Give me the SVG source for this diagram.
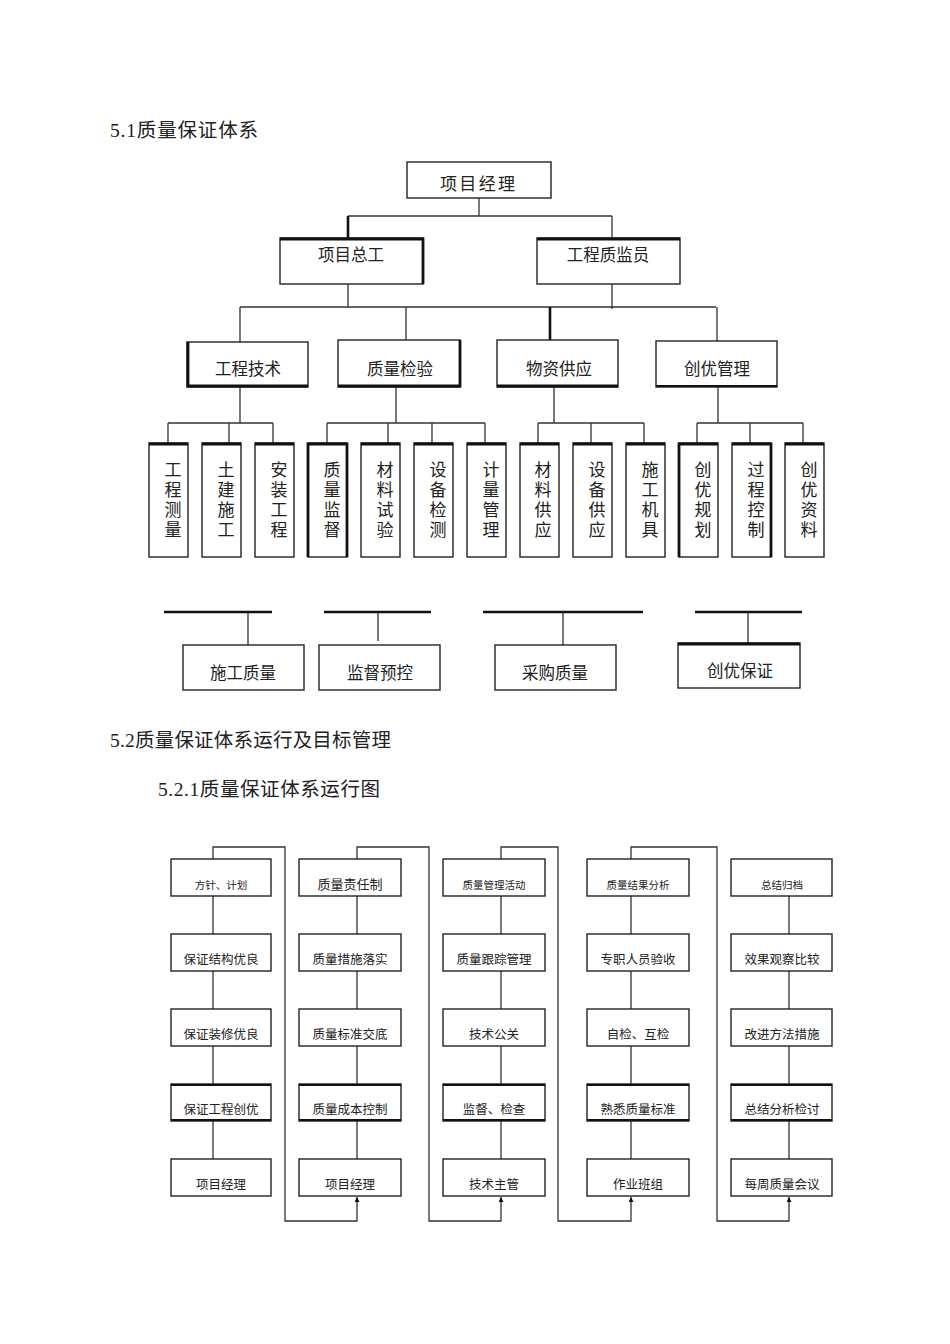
<svg xmlns="http://www.w3.org/2000/svg" width="950" height="1344" viewBox="0 0 950 1344">
<style>
.b{fill:#fff;stroke:#222;stroke-width:1.4}
.k{fill:none;stroke:#111;stroke-width:2.8}
.c{fill:none;stroke:#333;stroke-width:1.3}
.ck{fill:none;stroke:#111;stroke-width:2.6}
.t{font-family:"Noto Sans CJK SC",sans-serif;fill:#222;text-anchor:middle;dominant-baseline:central}
.t1{font-size:16.5px}
.tv{font-family:"Noto Sans CJK SC",sans-serif;fill:#222;font-size:17px;text-anchor:middle;dominant-baseline:central;writing-mode:vertical-rl;letter-spacing:3px}
.t2{font-size:12.5px}
.ts{font-size:10.5px}
.h{font-family:"Liberation Serif","Noto Sans CJK SC",serif;font-size:19.5px;fill:#222;dominant-baseline:central}
</style>
<defs>
<marker id="ar" viewBox="0 0 10 10" refX="10" refY="5" markerWidth="7" markerHeight="5" markerUnits="userSpaceOnUse" orient="auto">
<path d="M0,0 L10,5 L0,10 z" fill="#111"/>
</marker>
</defs>
<rect width="950" height="1344" fill="#fff"/>

<text class="h" x="110" y="130" textLength="148" lengthAdjust="spacing">5.1质量保证体系</text>
<text class="h" x="110" y="740" textLength="281" lengthAdjust="spacing">5.2质量保证体系运行及目标管理</text>
<text class="h" x="158" y="789" textLength="222" lengthAdjust="spacing">5.2.1质量保证体系运行图</text>

<!-- connectors of chart 1 -->
<g id="connectors1">
<path class="c" d="M479 198V216M348 216H612M612 216V238"/>
<path class="ck" d="M348 216V238"/>
<path class="c" d="M348 284V307M612 284V309M240 307H716M240 307V342M406 307V340M717 307V341"/>
<path class="ck" d="M550 307V340"/>
<path class="c" d="M240 387V423M168 423H273M168 423V443M229 423V443M273 423V443"/>
<path class="c" d="M396 386V423M327 423H485M327 423V443M388 423V443M432 423V443M485 423V443"/>
<path class="c" d="M554 387V423M538 423H644M538 423V443M591 423V443M644 423V443"/>
<path class="c" d="M718 387V423M697 423H803M697 423V443M750 423V443M803 423V443"/>
<path class="ck" d="M164 612H272M324 612H431M483 612H643M695 612H802"/>
<path class="c" d="M248 612V645M378 612V641M563 612V645M748 612V643"/>
</g>

<g id="n-pm"><rect class="b" x="407" y="162" width="144" height="36"/><text class="t" x="440" y="182" style="text-anchor:start;font-size:17px" textLength="75" lengthAdjust="spacing">项目经理</text></g>
<g id="n-zg"><rect class="b" x="280" y="238" width="143" height="46"/><path class="k" d="M280 239H423V284"/><text class="t t1" x="351" y="254">项目总工</text></g>
<g id="n-zjy"><rect class="b" x="537" y="238" width="143" height="46"/><path class="k" d="M537 239H680"/><text class="t t1" x="608" y="254">工程质监员</text></g>
<g id="n-gcjs"><rect class="b" x="187" y="342" width="121" height="45"/><path class="k" d="M188 342V386H308"/><text class="t t1" x="248" y="368">工程技术</text></g>
<g id="n-zljy"><rect class="b" x="338" y="340" width="122" height="47"/><path class="k" d="M460 340V386H338"/><text class="t t1" x="400" y="368">质量检验</text></g>
<g id="n-wzgy"><rect class="b" x="497" y="340" width="121" height="47"/><path class="k" d="M497 386H618"/><text class="t t1" x="559" y="368">物资供应</text></g>
<g id="n-cygl"><rect class="b" x="656" y="341" width="121" height="46"/><path class="ck" d="M656 386H777" style="stroke-width:2"/><text class="t t1" x="717" y="368">创优管理</text></g>

<g id="v1"><rect class="b" x="149" y="443" width="39" height="114"/><path class="k" d="M149 444H188"/><text class="tv" x="173" y="501">工程测量</text></g>
<g id="v2"><rect class="b" x="202" y="443" width="39" height="114"/><path class="k" d="M202 444H241"/><text class="tv" x="226" y="501">土建施工</text></g>
<g id="v3"><rect class="b" x="255" y="443" width="39" height="114"/><path class="k" d="M255 444H294"/><text class="tv" x="279" y="501">安装工程</text></g>
<g id="v4"><rect class="b" x="308" y="443" width="39" height="114"/><path class="k" d="M308 557V444H347V557"/><text class="tv" x="332" y="501">质量监督</text></g>
<g id="v5"><rect class="b" x="361" y="443" width="39" height="114"/><path class="k" d="M361 444H400"/><text class="tv" x="385" y="501">材料试验</text></g>
<g id="v6"><rect class="b" x="414" y="443" width="39" height="114"/><path class="k" d="M414 444H453"/><text class="tv" x="438" y="501">设备检测</text></g>
<g id="v7"><rect class="b" x="467" y="443" width="39" height="114"/><path class="k" d="M467 444H506"/><text class="tv" x="491" y="501">计量管理</text></g>
<g id="v8"><rect class="b" x="520" y="443" width="39" height="114"/><path class="k" d="M520 444H559"/><text class="tv" x="543" y="501">材料供应</text></g>
<g id="v9"><rect class="b" x="573" y="443" width="39" height="114"/><path class="k" d="M573 444H612"/><text class="tv" x="597" y="501">设备供应</text></g>
<g id="v10"><rect class="b" x="626" y="443" width="39" height="114"/><path class="k" d="M626 444H665"/><text class="tv" x="650" y="501">施工机具</text></g>
<g id="v11"><rect class="b" x="679" y="443" width="39" height="114"/><path class="k" d="M679 557V444H718"/><text class="tv" x="703" y="501">创优规划</text></g>
<g id="v12"><rect class="b" x="732" y="443" width="39" height="114"/><path class="k" d="M732 444H771V557"/><text class="tv" x="756" y="501">过程控制</text></g>
<g id="v13"><rect class="b" x="785" y="443" width="39" height="114"/><path class="k" d="M785 444H824"/><text class="tv" x="809" y="501">创优资料</text></g>

<g id="n-sgzl"><rect class="b" x="183" y="645" width="121" height="45"/><text class="t t1" x="243" y="672">施工质量</text></g>
<g id="n-jdyk"><rect class="b" x="319" y="645" width="121" height="45"/><text class="t t1" x="380" y="672">监督预控</text></g>
<g id="n-cgzl"><rect class="b" x="495" y="645" width="121" height="45"/><text class="t t1" x="555" y="672">采购质量</text></g>
<g id="n-cybz"><rect class="b" x="678" y="643" width="122" height="45"/><path class="k" d="M678 644H800"/><text class="t t1" x="740" y="670">创优保证</text></g>

<!-- connectors of chart 2 -->
<g id="connectors2">
<path class="c" d="M213 877V1178M357 877V1178M501 877V1178M631 877V1178M789 877V1178"/>
<path class="c" d="M213 859V847H285V1221H357V1197" marker-end="url(#ar)"/>
<path class="c" d="M357 859V847H429V1221H501V1197" marker-end="url(#ar)"/>
<path class="c" d="M501 859V847H558V1221H631V1197" marker-end="url(#ar)"/>
<path class="c" d="M631 859V847H717V1221H789V1197" marker-end="url(#ar)"/>
</g>

<g id="c1r1"><rect class="b" x="171" y="859" width="100" height="37"/><text class="t ts" x="221" y="884">方针、计划</text></g>
<g id="c1r2"><rect class="b" x="171" y="934" width="100" height="37"/><text class="t t2" x="221" y="958">保证结构优良</text></g>
<g id="c1r3"><rect class="b" x="171" y="1009" width="100" height="37"/><text class="t t2" x="221" y="1033">保证装修优良</text></g>
<g id="c1r4"><rect class="b" x="171" y="1084" width="100" height="37"/><path class="k" d="M171 1085H271M171 1120H271" style="stroke-width:2.2"/><text class="t t2" x="221" y="1108">保证工程创优</text></g>
<g id="c1r5"><rect class="b" x="171" y="1159" width="100" height="37"/><text class="t t2" x="221" y="1183">项目经理</text></g>

<g id="c2r1"><rect class="b" x="299" y="859" width="102" height="37"/><text class="t" style="font-size:13px" x="350" y="883">质量责任制</text></g>
<g id="c2r2"><rect class="b" x="299" y="934" width="102" height="37"/><text class="t t2" x="350" y="958">质量措施落实</text></g>
<g id="c2r3"><rect class="b" x="299" y="1009" width="102" height="37"/><text class="t t2" x="350" y="1033">质量标准交底</text></g>
<g id="c2r4"><rect class="b" x="299" y="1084" width="102" height="37"/><path class="k" d="M299 1085H401M299 1120H401" style="stroke-width:2.2"/><text class="t t2" x="350" y="1108">质量成本控制</text></g>
<g id="c2r5"><rect class="b" x="299" y="1159" width="102" height="37"/><text class="t t2" x="350" y="1183">项目经理</text></g>

<g id="c3r1"><rect class="b" x="443" y="859" width="102" height="37"/><text class="t ts" x="494" y="884">质量管理活动</text></g>
<g id="c3r2"><rect class="b" x="443" y="934" width="102" height="37"/><text class="t t2" x="494" y="958">质量跟踪管理</text></g>
<g id="c3r3"><rect class="b" x="443" y="1009" width="102" height="37"/><text class="t t2" x="494" y="1033">技术公关</text></g>
<g id="c3r4"><rect class="b" x="443" y="1084" width="102" height="37"/><path class="k" d="M443 1085H545M443 1120H545" style="stroke-width:2.2"/><text class="t t2" x="494" y="1108">监督、检查</text></g>
<g id="c3r5"><rect class="b" x="443" y="1159" width="102" height="37"/><text class="t t2" x="494" y="1183">技术主管</text></g>

<g id="c4r1"><rect class="b" x="587" y="859" width="102" height="37"/><text class="t ts" x="638" y="884">质量结果分析</text></g>
<g id="c4r2"><rect class="b" x="587" y="934" width="102" height="37"/><text class="t t2" x="638" y="958">专职人员验收</text></g>
<g id="c4r3"><rect class="b" x="587" y="1009" width="102" height="37"/><text class="t t2" x="638" y="1033">自检、互检</text></g>
<g id="c4r4"><rect class="b" x="587" y="1084" width="102" height="37"/><path class="k" d="M587 1085H689M587 1120H689" style="stroke-width:2.2"/><text class="t t2" x="638" y="1108">熟悉质量标准</text></g>
<g id="c4r5"><rect class="b" x="587" y="1159" width="102" height="37"/><text class="t t2" x="638" y="1183">作业班组</text></g>

<g id="c5r1"><rect class="b" x="731" y="859" width="101" height="37"/><text class="t ts" x="782" y="884">总结归档</text></g>
<g id="c5r2"><rect class="b" x="731" y="934" width="101" height="37"/><text class="t t2" x="782" y="958">效果观察比较</text></g>
<g id="c5r3"><rect class="b" x="731" y="1009" width="101" height="37"/><text class="t t2" x="782" y="1033">改进方法措施</text></g>
<g id="c5r4"><rect class="b" x="731" y="1084" width="101" height="37"/><path class="k" d="M731 1085H832M731 1120H832" style="stroke-width:2.2"/><text class="t t2" x="782" y="1108">总结分析检讨</text></g>
<g id="c5r5"><rect class="b" x="731" y="1159" width="101" height="37"/><text class="t t2" x="782" y="1183">每周质量会议</text></g>
</svg>
